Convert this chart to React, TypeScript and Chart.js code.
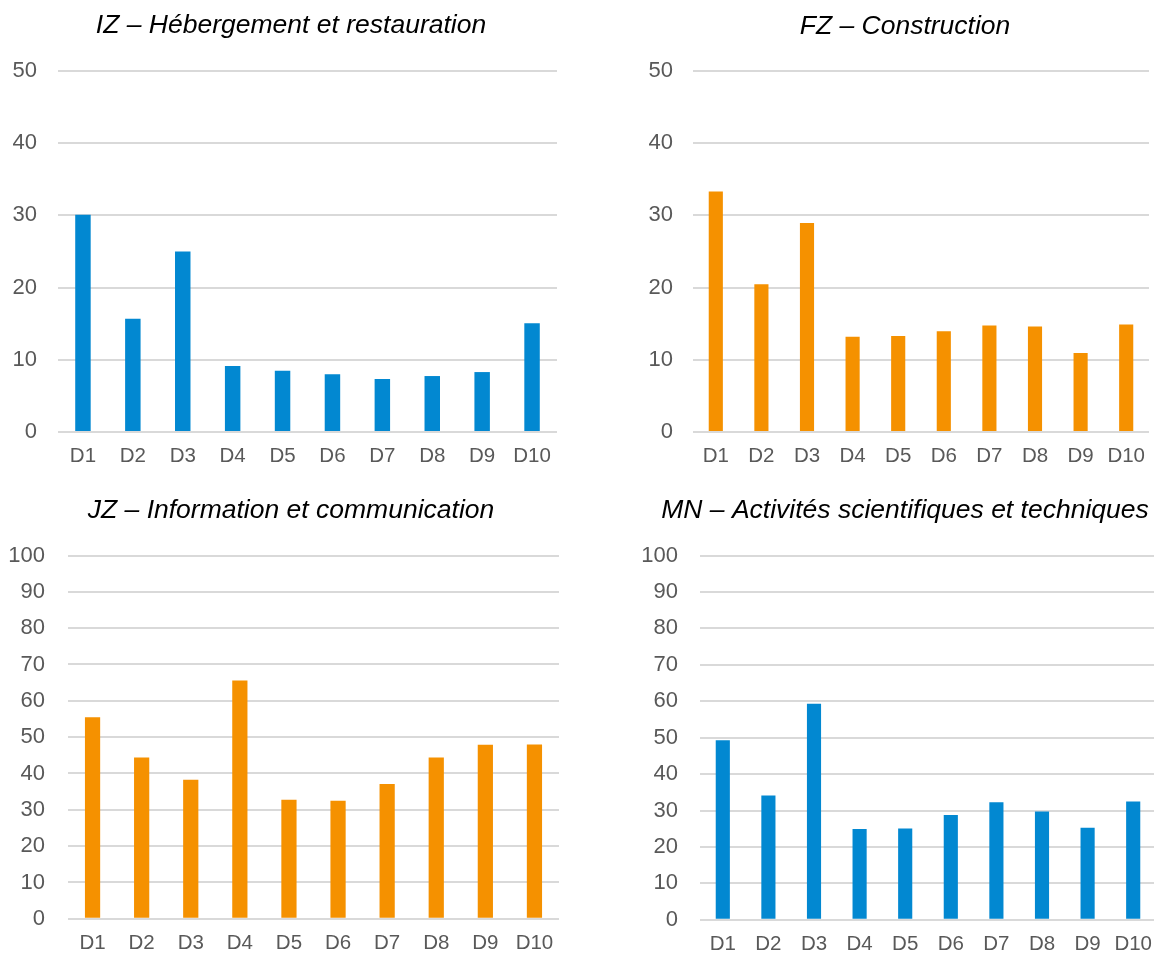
import React, { useEffect, useRef } from "react";
import { Chart, registerables } from "chart.js";

Chart.register(...registerables);

// ---- data ----
const categories = ["D1", "D2", "D3", "D4", "D5", "D6", "D7", "D8", "D9", "D10"];

const izTitle = "IZ – Hébergement et restauration";
const fzTitle = "FZ – Construction";
const jzTitle = "JZ – Information et communication";
const mnTitle = "MN – Activités scientifiques et techniques";

const izValues = [30.1, 15.7, 25.0, 9.15, 8.5, 8.0, 7.35, 7.75, 8.3, 15.05];
const fzValues = [33.3, 20.45, 28.95, 13.2, 13.3, 13.95, 14.75, 14.6, 10.95, 14.9];
const jzValues = [55.5, 44.4, 38.3, 65.6, 32.8, 32.5, 37.1, 44.4, 47.9, 48.0];
const mnValues = [49.3, 34.15, 59.3, 24.9, 25.05, 28.8, 32.3, 29.7, 25.25, 32.5];

const topAxisMax = 50;
const bottomAxisMax = 100;
const axisStep = 10;

const BLUE = "#0288D1";
const ORANGE = "#F59100";

// ---- layout per panel (pixels, relative to each canvas) ----
type Panel = {
  title: string;
  values: number[];
  color: string;
  max: number;
  x: number;
  y: number;
  w: number;
  h: number;
  yW: number;
  yPad: number;
  plotTop: number;
  plotBottom: number;
  titleMid: number;
  titleCenter: number;
};

const TITLE_SIZE = 26.5;
const TICK_SIZE = 22;
const XTICK_SIZE = 20.5;
const XLABEL_MID = 24.5;
const FONT = "'Liberation Sans', Arial, Helvetica, sans-serif";

const panels: Panel[] = [
  { title: izTitle, values: izValues, color: BLUE, max: topAxisMax,
    x: 0, y: 0, w: 557, h: 480, yW: 58, yPad: 21, plotTop: 71, plotBottom: 432, titleMid: 26, titleCenter: 291 },
  { title: fzTitle, values: fzValues, color: ORANGE, max: topAxisMax,
    x: 577, y: 0, w: 572, h: 480, yW: 116, yPad: 20, plotTop: 71, plotBottom: 432, titleMid: 26.5, titleCenter: 328 },
  { title: jzTitle, values: jzValues, color: ORANGE, max: bottomAxisMax,
    x: 0, y: 480, w: 559, h: 475, yW: 68, yPad: 23, plotTop: 75.5, plotBottom: 442.7, titleMid: 30.5, titleCenter: 291 },
  { title: mnTitle, values: mnValues, color: BLUE, max: bottomAxisMax,
    x: 577, y: 480, w: 579, h: 475, yW: 123, yPad: 22, plotTop: 75.5, plotBottom: 442.7, titleMid: 31, titleCenter: 328 },
];

function BarPanel({ p }: { p: Panel }) {
  const ref = useRef<HTMLCanvasElement | null>(null);
  useEffect(() => {
    if (!ref.current) return;
    const L = TITLE_SIZE * 1.2;
    const padTop = p.titleMid - L / 2;
    const titleBottom = p.plotTop - padTop - L;
    const xH = p.h - p.plotBottom;
    const titleShift = {
      id: "titleShift",
      afterLayout(chart: any) {
        const t = chart.titleBlock;
        if (t) {
          const w = t.right - t.left;
          t.left = p.titleCenter - w / 2;
          t.right = p.titleCenter + w / 2;
        }
      },
    };
    const chart = new Chart(ref.current, {
      type: "bar",
      data: {
        labels: categories,
        datasets: [
          {
            data: p.values,
            backgroundColor: p.color,
            borderWidth: 0,
            categoryPercentage: 0.31,
            barPercentage: 1,
          },
        ],
      },
      options: {
        animation: false,
        responsive: false,
        devicePixelRatio: 1,
        layout: { padding: { left: 0, right: 0, top: padTop, bottom: 0 } },
        plugins: {
          legend: { display: false },
          tooltip: { enabled: false },
          title: {
            display: true,
            text: p.title,
            color: "#000000",
            font: { family: FONT, size: TITLE_SIZE, style: "italic", weight: "normal" },
            padding: { top: 0, bottom: titleBottom },
          },
        },
        scales: {
          x: {
            type: "category",
            offset: true,
            grid: { display: false, drawTicks: false },
            border: { display: false },
            ticks: {
              color: "#595959",
              font: { family: FONT, size: XTICK_SIZE, lineHeight: (XLABEL_MID * 2) / XTICK_SIZE },
              padding: 0,
              maxRotation: 0,
              autoSkip: false,
            },
            afterFit: (s: any) => {
              s.height = xH;
            },
          },
          y: {
            min: 0,
            max: p.max,
            grid: { color: "#D9D9D9", lineWidth: 2, drawTicks: false },
            border: { display: false },
            ticks: {
              stepSize: axisStep,
              color: "#595959",
              font: { family: FONT, size: TICK_SIZE },
              padding: p.yPad,
            },
            afterFit: (s: any) => {
              s.width = p.yW;
            },
          },
        },
      },
      plugins: [titleShift],
    } as any);
    return () => chart.destroy();
  }, [p]);
  return (
    <canvas
      ref={ref}
      width={p.w}
      height={p.h}
      style={{ position: "absolute", left: p.x, top: p.y, width: p.w, height: p.h }}
    />
  );
}

export default function App() {
  return (
    <div
      style={{
        position: "absolute",
        left: 0,
        top: 0,
        width: 1154,
        height: 955,
        overflow: "hidden",
        background: "#ffffff",
      }}
    >
      {panels.map((p, i) => (
        <BarPanel key={i} p={p} />
      ))}
    </div>
  );
}
